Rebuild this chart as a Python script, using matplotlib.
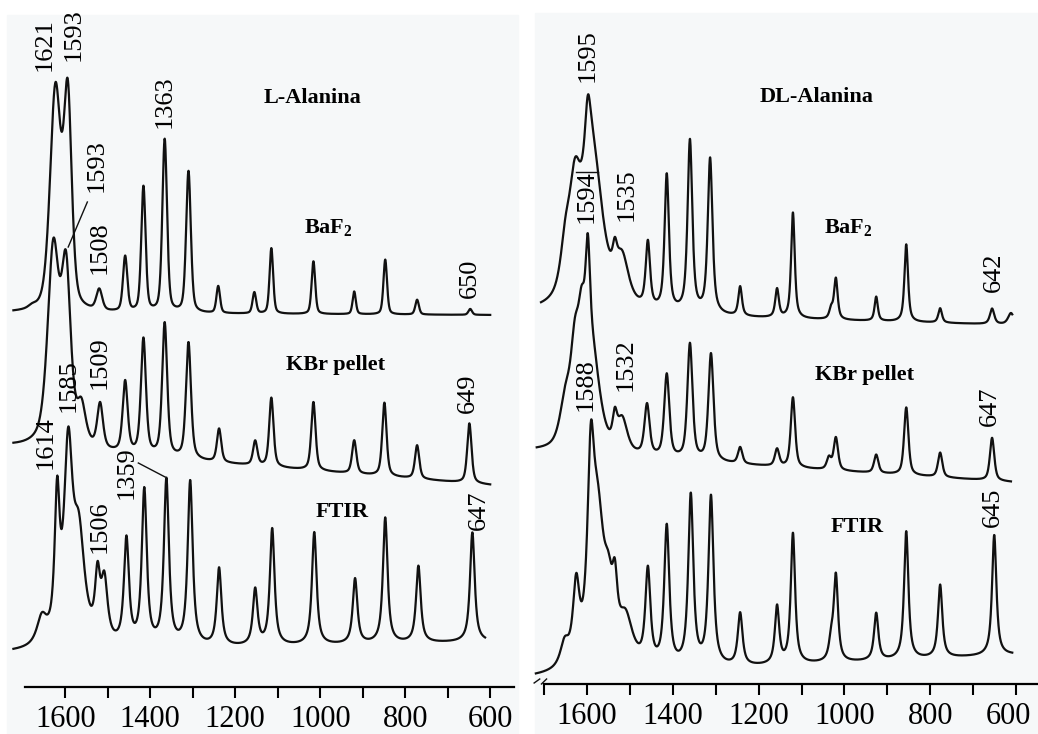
import numpy as np
import matplotlib
matplotlib.use("Agg")
import matplotlib.pyplot as plt
from matplotlib.patches import Rectangle
from matplotlib.transforms import ScaledTranslation

plt.rcParams["font.family"] = ["Liberation Serif", "DejaVu Serif"]
plt.rcParams["mathtext.fontset"] = "custom"
plt.rcParams["mathtext.rm"] = "Liberation Serif"
plt.rcParams["mathtext.bf"] = "Liberation Serif:bold"

# ---- datos (numero de onda cm-1, altura sobre la linea base, ancho) ----
# base: (nu inicial, nu final, linea base inicial, linea base final, fraccion lorentziana)
# L-Alanina
l_baf2_pos = [1678, 1623, 1594, 1520, 1459, 1416, 1366, 1310, 1240, 1155, 1115, 1016, 920, 847, 772, 647]
l_baf2_alt = [10, 231, 234, 25, 58, 128, 175, 143, 28, 22, 66, 53, 23, 55, 15, 6]
l_baf2_anc = [10, 15, 11, 8, 6, 6, 6.5, 6.5, 5, 5, 5, 5, 4.5, 5, 5, 5]
l_baf2_base = (1722, 600, 421, 419, 0.4)

l_kbr_pos = [1628, 1598, 1562, 1518, 1459, 1416, 1366, 1310, 1238, 1153, 1115, 1016, 920, 849, 772, 649]
l_kbr_alt = [212, 200, 55, 52, 76, 120, 137, 119, 35, 26, 70, 69, 34, 74, 34, 60]
l_kbr_anc = [16, 13, 12, 8, 7, 7, 7, 7, 6, 6, 6, 6, 6, 6, 6, 6]
l_kbr_base = (1722, 600, 287, 249, 0.55)

l_ftir_pos = [1655, 1619, 1593, 1568, 1524, 1508, 1456, 1414, 1362, 1306, 1238, 1153, 1113, 1014, 918, 847, 769, 642]
l_ftir_alt = [40, 176, 225, 140, 90, 80, 115, 163, 172, 169, 81, 60, 119, 114, 67, 127, 78, 110]
l_ftir_anc = [14, 7, 12, 16, 7, 9, 7, 7, 7, 7, 6.5, 6.5, 6.5, 6.5, 6.5, 6.5, 6.5, 6.5]
l_ftir_base = (1722, 612, 81, 92, 0.85)

# DL-Alanina
dl_baf2_pos = [1650, 1628, 1598, 1588, 1535, 1518, 1458, 1414, 1360, 1313, 1243, 1157, 1120, 1031, 1020, 926, 856, 777, 656, 612]
dl_baf2_alt = [97, 156, 219, 192, 78, 65, 76, 143, 178, 160, 32, 31, 107, 16, 43, 25, 78, 15, 16, 12]
dl_baf2_anc = [14, 16, 8, 28, 6, 18, 6, 6, 6.5, 6.5, 5, 5, 5, 5, 5, 4.5, 5, 5, 6, 8]
dl_baf2_base = (1707, 609, 421, 409, 0.7)

dl_kbr_pos = [1650, 1628, 1612, 1598, 1590, 1535, 1518, 1460, 1414, 1360, 1311, 1243, 1157, 1120, 1036, 1020, 926, 856, 777, 656]
dl_kbr_alt = [70, 137, 170, 222, 150, 50, 42, 56, 87, 119, 110, 18, 19, 71, 15, 34, 19, 68, 25, 43]
dl_kbr_anc = [15, 12, 10, 6, 22, 6, 14, 7, 7, 7, 7, 6, 6, 6, 6, 6, 6, 6, 6, 6]
dl_kbr_base = (1717, 612, 282, 252, 0.6)

dl_ftir_pos = [1652, 1625, 1591, 1575, 1550, 1535, 1510, 1458, 1414, 1358, 1311, 1243, 1157, 1120, 1031, 1020, 926, 856, 777, 651]
dl_ftir_alt = [40, 103, 253, 195, 123, 116, 65, 107, 148, 178, 175, 56, 62, 133, 38, 91, 49, 129, 74, 121]
dl_ftir_anc = [12, 9, 9, 18, 12, 7, 20, 7, 7, 7, 7, 6.5, 6, 6, 6, 6, 6, 6, 6, 6]
dl_ftir_base = (1719, 609, 56, 79, 0.85)

# etiquetas de picos: (texto, numero de onda, y)
l_picos = [("1621", 1649, 689), ("1593", 1579, 699), ("1363", 1367, 632), ("1593", 1525, 568),
           ("1508", 1520, 486), ("650", 649, 456), ("1509", 1518, 371), ("1585", 1593, 348),
           ("1614", 1647, 291), ("1359", 1456, 261), ("1506", 1518, 207), ("649", 652, 341),
           ("647", 626, 224)]
dl_picos = [("1595", 1598, 678), ("1594", 1600, 537), ("1535", 1507, 539), ("642", 651, 462),
            ("1588", 1602, 349), ("1532", 1509, 369), ("647", 661, 328), ("645", 654, 227)]
l_rotulos = [("L-Alanina", 1019, 636), (r"$\mathbf{BaF_2}$", 981, 507),
             ("KBr pellet", 965, 369), ("FTIR", 948, 222)]
dl_rotulos = [("DL-Alanina", 1066, 637), (r"$\mathbf{BaF_2}$", 992, 507),
              ("KBr pellet", 954, 359), ("FTIR", 971, 207)]

mayores = [1600, 1400, 1200, 1000, 800, 600]


def forma(x, c, w, eta):
    d = (x[:, None] - c[None, :]) / w[None, :]
    return eta / (1 + d ** 2) + (1 - eta) * np.exp(-np.log(2) * d ** 2)


def espectro(pos, alt, anc, base):
    x0, x1, b0, b1, eta = base
    c = np.array(pos, float)
    w = np.array(anc, float)
    amp = np.linalg.solve(forma(c, c, w, eta), np.array(alt, float))
    x = np.linspace(x0, x1, 2500)
    y = b0 + (b1 - b0) * (x0 - x) / (x0 - x1) + forma(x, c, w, eta) @ amp
    return x, y


fig = plt.figure(figsize=(10.38, 7.34), dpi=100)
fig.add_artist(Rectangle((7 / 1038, 0), 511 / 1038, 719 / 734, transform=fig.transFigure,
                         color="#f6f8f9", zorder=0))
fig.add_artist(Rectangle((535 / 1038, 0), 503 / 1038, 721 / 734, transform=fig.transFigure,
                         color="#f6f8f9", zorder=0))

ax1 = fig.add_axes([10 / 1038, 47 / 734, 504 / 1038, 687 / 734])
ax2 = fig.add_axes([535 / 1038, 50 / 734, 503 / 1038, 684 / 734])

paneles = [
    (ax1, [(l_baf2_pos, l_baf2_alt, l_baf2_anc, l_baf2_base),
           (l_kbr_pos, l_kbr_alt, l_kbr_anc, l_kbr_base),
           (l_ftir_pos, l_ftir_alt, l_ftir_anc, l_ftir_base)],
     l_picos, l_rotulos, (1730, 544), (1694, 544), [1500, 1300, 1100, 900, 700], (47, 734)),
    (ax2, [(dl_baf2_pos, dl_baf2_alt, dl_baf2_anc, dl_baf2_base),
           (dl_kbr_pos, dl_kbr_alt, dl_kbr_anc, dl_kbr_base),
           (dl_ftir_pos, dl_ftir_alt, dl_ftir_anc, dl_ftir_base)],
     dl_picos, dl_rotulos, (1721, 549), (1700, 549), [1700, 1500, 1300, 1100, 900, 700], (50, 734)),
]

for ax, trazas, picos, rotulos, xlim, bounds, menores, ylim in paneles:
    ax.set_facecolor("none")
    for pos, alt, anc, base in trazas:
        x, y = espectro(pos, alt, anc, base)
        ax.plot(x, y, color="#111111", lw=1.6, clip_on=False)
    for t, xx, yy in picos:
        ax.text(xx, yy, t, rotation=90, ha="center", va="center", fontsize=19)
    for t, xx, yy in rotulos:
        ax.text(xx, yy, t, ha="center", va="center", fontsize=16, fontweight="bold")
    ax.set_xlim(*xlim)
    ax.set_ylim(*ylim)
    for s in ["left", "right", "top"]:
        ax.spines[s].set_visible(False)
    ax.spines["bottom"].set_bounds(*bounds)
    ax.spines["bottom"].set_linewidth(1.6)
    ax.set_xticks(mayores)
    ax.set_xticks(menores, minor=True)
    ax.tick_params(axis="x", which="both", direction="out", length=8, width=1.5, labelsize=22, pad=5)
    ax.set_yticks([])

# el ultimo rotulo del panel derecho va un poco corrido a la izquierda
lab = ax2.xaxis.get_major_ticks()[-1].label1
lab.set_transform(lab.get_transform() + ScaledTranslation(-8 / 100, 0, fig.dpi_scale_trans))

# lineas guia
ax1.plot([1548, 1593], [532, 487], color="#111111", lw=1.0)
ax1.plot([1428, 1365], [271, 257], color="#111111", lw=1.0)
ax2.plot([1625, 1574], [562, 562], color="#111111", lw=1.0)
ax2.plot([1723, 1710], [51, 55], color="#111111", lw=1.0, clip_on=False)
ax2.plot([1706, 1694], [50, 55], color="#111111", lw=1.0, clip_on=False)

fig.savefig("out.png", dpi=100, facecolor="white")
